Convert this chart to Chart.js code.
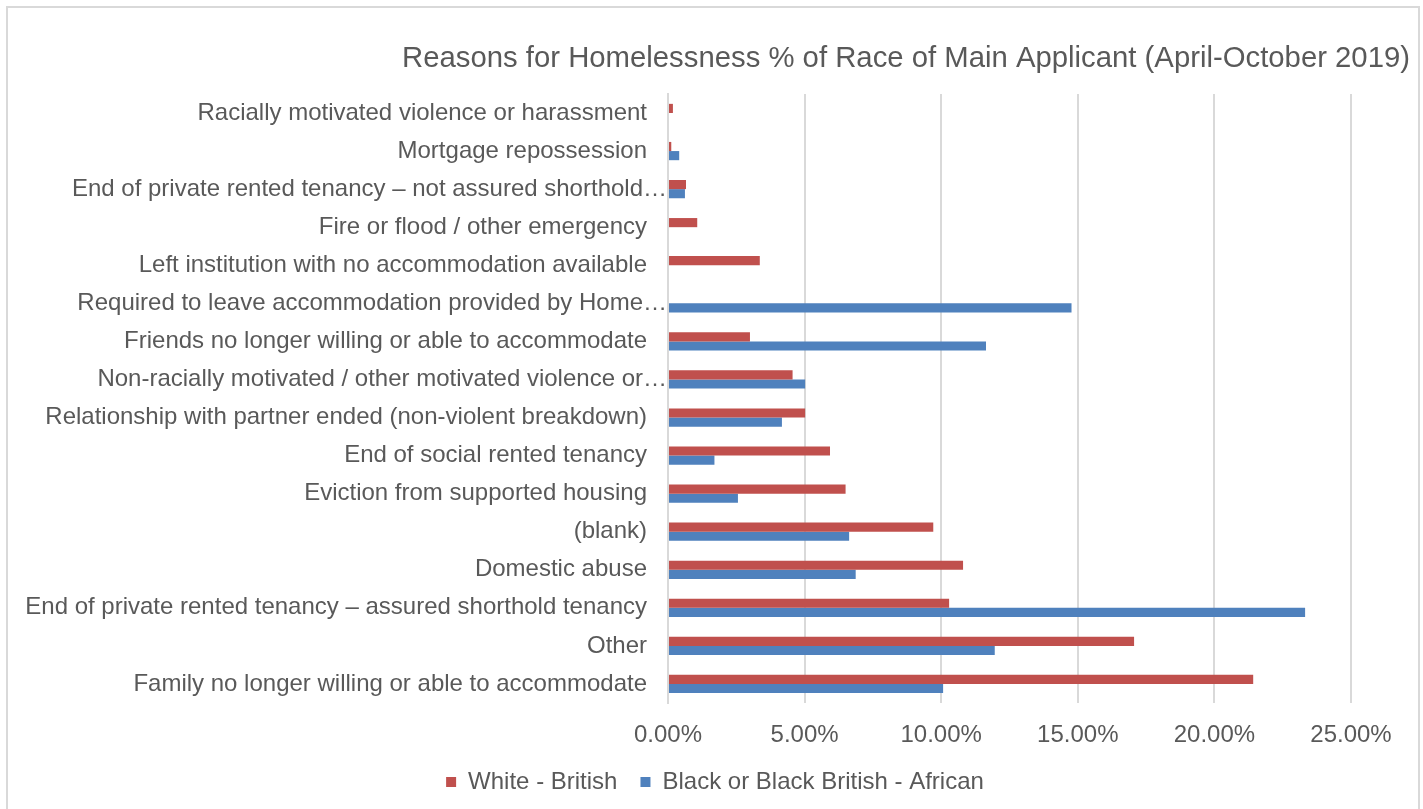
<!DOCTYPE html>
<html>
<head>
<meta charset="utf-8">
<title>Reasons for Homelessness</title>
<script src="https://cdn.jsdelivr.net/npm/chart.js@4/dist/chart.umd.min.js"></script>
<style>
  html, body { margin: 0; padding: 0; background: #ffffff; }
  #wrap { position: relative; width: 1423px; height: 809px; overflow: hidden; }
  #frame {
    position: absolute; left: 6px; top: 6px; width: 1414px; height: 830px;
    border: 2px solid #d9d9d9; box-sizing: border-box; pointer-events: none;
  }
  canvas { position: absolute; left: 0; top: 0; }
</style>
</head>
<body>
<div id="wrap">
  <canvas id="chart" width="1423" height="809"></canvas>
  <div id="frame"></div>
</div>
<script>
// Reasons, listed from the top of the chart downwards
const reasons = [
  "Racially motivated violence or harassment",
  "Mortgage repossession",
  "End of private rented tenancy – not assured shorthold…",
  "Fire or flood / other emergency",
  "Left institution with no accommodation available",
  "Required to leave accommodation provided by Home…",
  "Friends no longer willing or able to accommodate",
  "Non-racially motivated / other motivated violence or…",
  "Relationship with partner ended (non-violent breakdown)",
  "End of social rented tenancy",
  "Eviction from supported housing",
  "(blank)",
  "Domestic abuse",
  "End of private rented tenancy – assured shorthold tenancy",
  "Other",
  "Family no longer willing or able to accommodate"
];

// Share of each group's applications, in percent
const whiteBritish = [0.18, 0.12, 0.66, 1.07, 3.36, null, 3.00, 4.56, 5.02, 5.93, 6.50, 9.71, 10.80, 10.29, 17.06, 21.42];
const blackAfrican = [null, 0.41, 0.62, null, null, 14.77, 11.64, 5.02, 4.17, 1.70, 2.56, 6.63, 6.87, 23.32, 11.96, 10.07];

const seriesNames = ["White - British", "Black or Black British - African"];
const percentTicks = [0, 5, 10, 15, 20, 25];
const chartTitle = "Reasons for Homelessness % of Race of Main Applicant (April-October 2019)";

const TEXT = "#595959";
const GRID = "#d9d9d9";
Chart.defaults.font.family = "'Liberation Sans', Arial, sans-serif";
Chart.defaults.color = TEXT;

// Shortened names run right up to the axis; full names keep a small gap.
const categoryLabel = (name) => name.endsWith("…") ? name : name + "   ";

new Chart(document.getElementById("chart"), {
  type: "bar",
  data: {
    labels: reasons,
    datasets: [
      { label: seriesNames[0], data: whiteBritish, backgroundColor: "#c0504d", borderWidth: 0 },
      { label: seriesNames[1], data: blackAfrican, backgroundColor: "#4f81bd", borderWidth: 0 }
    ]
  },
  options: {
    indexAxis: "y",
    responsive: false,
    animation: false,
    events: [],
    categoryPercentage: 0.48,
    barPercentage: 1.0,
    layout: { padding: { left: 20, right: 13, top: 0, bottom: 5 } },
    scales: {
      x: {
        min: percentTicks[0],
        max: percentTicks[percentTicks.length - 1],
        afterBuildTicks: (s) => { s.ticks = percentTicks.map(v => ({ value: v })); },
        afterFit: (s) => { s.height = 44; s.paddingRight = 72; },
        grid: { color: GRID, lineWidth: 2, drawTicks: false },
        border: { display: false },
        ticks: {
          padding: 18,
          font: { size: 24 },
          color: TEXT,
          callback: (v) => Number(v).toFixed(2) + "%"
        }
      },
      y: {
        afterFit: (s) => { s.width = 648; },
        grid: { display: false, drawTicks: false },
        border: { display: true, color: GRID, width: 2 },
        ticks: {
          padding: 1,
          font: { size: 24 },
          color: TEXT,
          autoSkip: false,
          callback: (v, i) => categoryLabel(reasons[i])
        }
      }
    },
    plugins: {
      tooltip: { enabled: false },
      title: {
        display: true,
        text: chartTitle,
        align: "end",
        color: TEXT,
        font: { size: 29.3, weight: "normal" },
        padding: { top: 41, bottom: 17.8 }
      },
      legend: {
        position: "bottom",
        labels: {
          boxWidth: 10,
          boxHeight: 10,
          padding: 23,
          color: TEXT,
          font: { size: 24 }
        }
      }
    }
  }
});
</script>
</body>
</html>
